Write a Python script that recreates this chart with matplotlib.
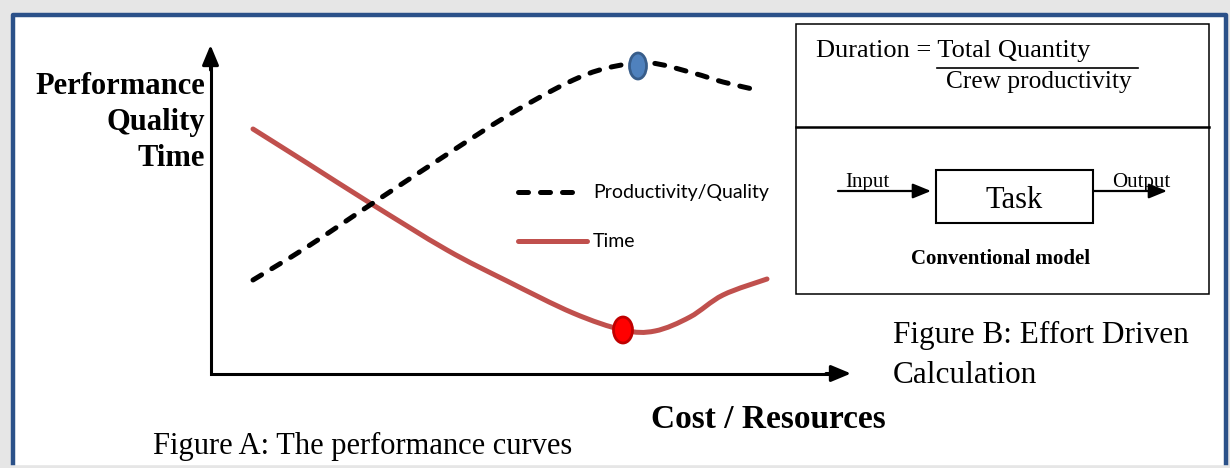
import numpy as np
import matplotlib.pyplot as plt
from matplotlib.patches import Rectangle, Ellipse, PathPatch
from matplotlib.path import Path

# curves (pixel coords, y downwards)
prod_x = [253, 307, 373, 443, 507, 567, 607, 650, 693, 723, 757]
prod_y = [280, 247, 203, 157, 116, 83, 68, 63, 73, 82, 90]

time_x = [253, 307, 370, 447, 507, 573, 623, 655, 690, 723, 767]
time_y = [129, 163, 203, 250, 281, 313, 330, 331, 317, 295, 279]

prod_peak = (638, 66)
time_min = (623, 330)

legend_labels = ['Productivity/Quality', 'Time']
y_label = 'Performance\nQuality\nTime'
x_label = 'Cost / Resources'
caption_a = 'Figure A: The performance curves'
caption_b = 'Figure B: Effort Driven\nCalculation'

SERIF = 'Liberation Serif'
SANS = 'Lato'
RED = '#C0504D'
DASH = (0, (2.0, 2.4))


def smooth_path(xs, ys):
    # bezier path through the read points (catmull-rom style handles)
    p = np.column_stack([xs, ys]).astype(float)
    verts = [p[0]]
    codes = [Path.MOVETO]
    for i in range(len(p) - 1):
        p0 = p[max(i - 1, 0)]
        p3 = p[min(i + 2, len(p) - 1)]
        verts += [p[i] + (p[i + 1] - p0) / 6, p[i + 1] - (p3 - p[i]) / 6, p[i + 1]]
        codes += [Path.CURVE4] * 3
    return Path(verts, codes)


fig = plt.figure(figsize=(12.3, 4.68), dpi=100)
ax = fig.add_axes([0, 0, 1, 1])
ax.set_xlim(0, 1230)
ax.set_ylim(468, 0)
ax.axis('off')

# page background and frame
ax.add_patch(Rectangle((0, 0), 1230, 468, color='#E6E6E6', zorder=0))
ax.add_patch(Rectangle((13, 14.5), 1212.5, 449, color='white', zorder=0.5))
ax.plot([13, 13, 1225.5, 1225.5], [463, 14.5, 14.5, 463], color='#2B5189', lw=3.2, zorder=1)

# axes
ax.plot([210.5, 210.5, 840], [55, 373.5, 373.5], color='black', lw=2.2, solid_joinstyle='miter')
arrow = dict(arrowstyle='-|>,head_length=1.2,head_width=0.5', color='black', lw=2.2,
             mutation_scale=10, shrinkA=0, shrinkB=0)
ax.annotate('', xy=(210.5, 45), xytext=(210.5, 70), arrowprops=arrow)
ax.annotate('', xy=(851, 373.5), xytext=(826, 373.5), arrowprops=arrow)

# curves
ax.add_patch(PathPatch(smooth_path(time_x, time_y), fill=False, edgecolor=RED, lw=3.6,
                       capstyle='round', joinstyle='round', zorder=3))
ax.add_patch(PathPatch(smooth_path(prod_x, prod_y), fill=False, edgecolor='black', lw=3.6,
                       linestyle=DASH, capstyle='round', zorder=3))
ax.add_patch(Ellipse(prod_peak, 17, 26, facecolor='#4F81BD', edgecolor='#385D8A', lw=2, zorder=4))
ax.add_patch(Ellipse(time_min, 19, 26, facecolor='#FF0000', edgecolor='#C00000', lw=2, zorder=4))

# legend
ax.plot([518, 577], [192, 192], color='black', lw=3.6, linestyle=DASH, dash_capstyle='round')
ax.plot([518, 587], [241, 241], color=RED, lw=3.6, solid_capstyle='round')
ax.text(593, 198, legend_labels[0], family=SANS, fontsize=14, va='baseline')
ax.text(593, 247, legend_labels[1], family=SANS, fontsize=14, va='baseline')

# labels
for i, line in enumerate(y_label.split('\n')):
    ax.text(205, 94 + 36 * i, line, family=SERIF, fontweight='bold', fontsize=22,
            ha='right', va='baseline')
ax.text(768, 428, x_label, family=SERIF, fontweight='bold', fontsize=24, ha='center', va='baseline')
ax.text(153, 454, caption_a, family=SERIF, fontsize=22, va='baseline')
for i, line in enumerate(caption_b.split('\n')):
    ax.text(893, 343 + 40 * i, line, family=SERIF, fontsize=22.5, va='baseline')

# figure B boxes
ax.add_patch(Rectangle((795.5, 24), 413.5, 270, fill=False, edgecolor='black', lw=1.1, zorder=2))
ax.plot([795.5, 1209], [127, 127], color='black', lw=1.8)
ax.text(816, 57, 'Duration = Total Quantity', family=SERIF, fontsize=19, va='baseline')
ax.plot([937, 1138], [68, 68], color='black', lw=1.2)
ax.text(946, 88, 'Crew productivity', family=SERIF, fontsize=18.3, va='baseline')

ax.add_patch(Rectangle((936, 169.5), 157, 53, fill=False, edgecolor='black', lw=1.5, zorder=2))
ax.text(1014.5, 208, 'Task', family=SERIF, fontsize=22, ha='center', va='baseline')
small = dict(arrowstyle='-|>,head_length=1.1,head_width=0.45', color='black', lw=1.6,
             mutation_scale=10, shrinkA=0, shrinkB=0)
ax.annotate('', xy=(931, 191), xytext=(838, 191), arrowprops=small)
ax.annotate('', xy=(1167, 191), xytext=(1094, 191), arrowprops=small)
ax.text(845, 187, 'Input', family=SERIF, fontsize=15, va='baseline')
ax.text(1112, 187, 'Output', family=SERIF, fontsize=15, va='baseline')
ax.text(1001, 264, 'Conventional model', family=SERIF, fontweight='bold', fontsize=15,
        ha='center', va='baseline')

fig.savefig('out.png', dpi=100)
